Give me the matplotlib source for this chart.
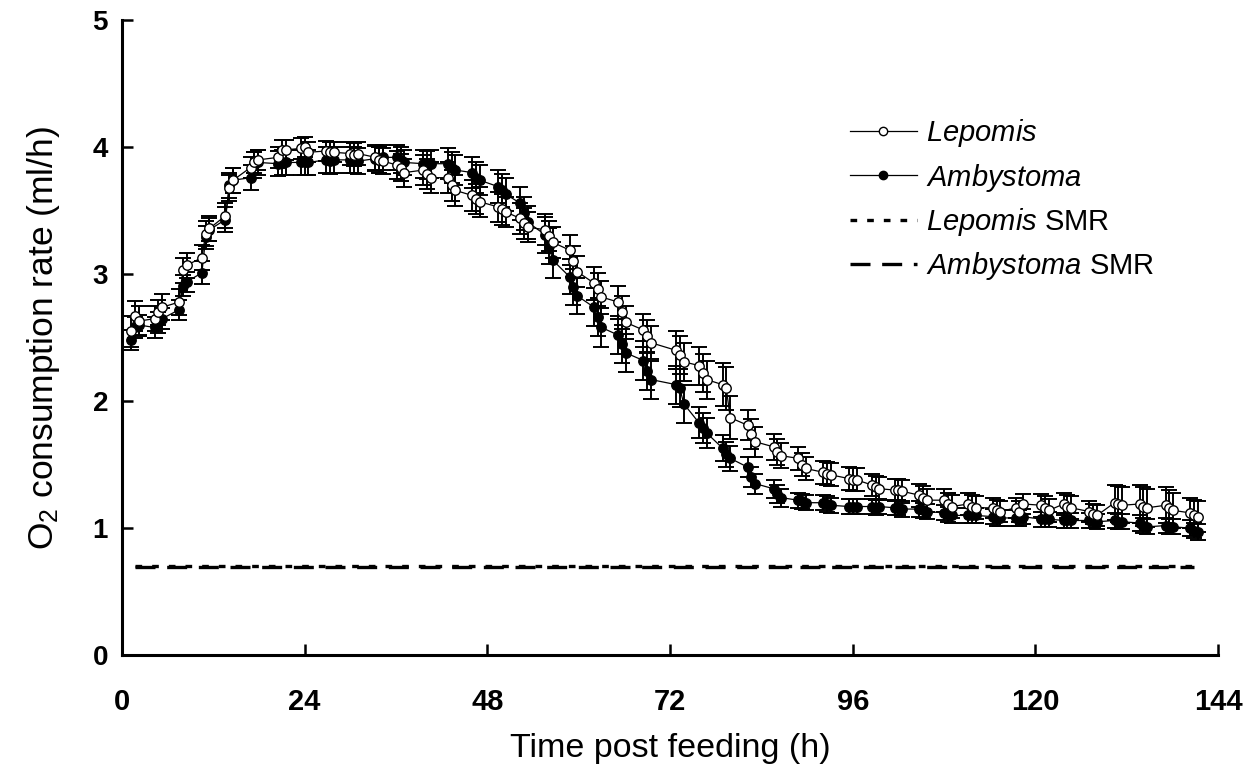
import numpy as np
import matplotlib
matplotlib.use("Agg")
import matplotlib.pyplot as plt
from matplotlib.lines import Line2D

plt.rcParams["font.family"] = ["Liberation Sans", "DejaVu Sans"]
plt.rcParams["mathtext.fontset"] = "custom"
plt.rcParams["mathtext.rm"] = "Liberation Sans"
plt.rcParams["mathtext.it"] = "Liberation Sans:italic"

# sampling: clusters of three readings (about half an hour apart)
cluster_hours = [1.7, 4.8, 8.0, 11.0, 14.1, 17.4, 21.0, 24.0, 27.3, 30.5, 33.8,
                 36.6, 40.1, 43.3, 46.5, 49.9, 52.8, 56.1, 59.3, 62.5, 65.7, 69.0,
                 73.3, 76.3, 79.4, 82.7, 86.1, 89.3, 92.6, 96.0, 99.0, 102.0, 105.2,
                 108.5, 111.7, 114.9, 117.9, 121.3, 124.2, 127.6, 130.9, 134.2, 137.6, 140.8]
reading_offsets = [-0.5, 0.0, 0.5]

lepomis_o2 = [2.55, 2.67, 2.63, 2.65, 2.70, 2.74, 2.78, 3.03, 3.07, 3.13, 3.32, 3.36,
              3.46, 3.68, 3.74, 3.84, 3.88, 3.90, 3.92, 3.98, 3.98, 3.99, 4.00, 3.96,
              3.97, 3.96, 3.96, 3.95, 3.94, 3.95, 3.92, 3.90, 3.89, 3.86, 3.84, 3.80,
              3.82, 3.79, 3.76, 3.76, 3.70, 3.66, 3.62, 3.59, 3.57, 3.53, 3.51, 3.49,
              3.44, 3.40, 3.37, 3.35, 3.30, 3.25, 3.19, 3.10, 3.02, 2.93, 2.88, 2.82,
              2.78, 2.70, 2.62, 2.56, 2.51, 2.46, 2.40, 2.36, 2.31, 2.28, 2.22, 2.17,
              2.13, 2.10, 1.87, 1.81, 1.74, 1.68, 1.64, 1.60, 1.57, 1.55, 1.50, 1.47,
              1.44, 1.43, 1.42, 1.39, 1.38, 1.38, 1.34, 1.32, 1.31, 1.30, 1.30, 1.29,
              1.26, 1.24, 1.22, 1.22, 1.19, 1.17, 1.19, 1.17, 1.16, 1.16, 1.14, 1.13,
              1.16, 1.13, 1.19, 1.18, 1.16, 1.14, 1.19, 1.17, 1.16, 1.13, 1.11, 1.10,
              1.20, 1.19, 1.18, 1.19, 1.17, 1.16, 1.18, 1.16, 1.14, 1.12, 1.10, 1.09]

ambystoma_o2 = [2.48, 2.58, 2.60, 2.58, 2.62, 2.65, 2.72, 2.91, 2.94, 3.01, 3.29, 3.35,
                3.43, 3.70, 3.74, 3.76, 3.86, 3.88, 3.87, 3.88, 3.88, 3.88, 3.88, 3.88,
                3.90, 3.89, 3.90, 3.90, 3.90, 3.89, 3.91, 3.90, 3.92, 3.92, 3.90, 3.88,
                3.87, 3.86, 3.87, 3.87, 3.84, 3.82, 3.80, 3.76, 3.74, 3.69, 3.66, 3.63,
                3.56, 3.48, 3.41, 3.31, 3.22, 3.11, 2.98, 2.90, 2.83, 2.74, 2.66, 2.58,
                2.52, 2.45, 2.38, 2.32, 2.24, 2.17, 2.13, 2.10, 1.98, 1.83, 1.79, 1.75,
                1.63, 1.58, 1.55, 1.48, 1.40, 1.35, 1.31, 1.27, 1.24, 1.22, 1.21, 1.20,
                1.20, 1.19, 1.18, 1.17, 1.17, 1.17, 1.17, 1.16, 1.17, 1.16, 1.16, 1.15,
                1.15, 1.14, 1.13, 1.12, 1.11, 1.10, 1.10, 1.10, 1.10, 1.09, 1.08, 1.08,
                1.08, 1.08, 1.09, 1.07, 1.07, 1.07, 1.06, 1.06, 1.06, 1.06, 1.06, 1.05,
                1.06, 1.05, 1.05, 1.04, 1.02, 1.01, 1.02, 1.01, 1.01, 1.00, 0.98, 0.97]

# standard error, one per cluster
lepomis_se = [0.12, 0.10, 0.10, 0.10, 0.10, 0.08, 0.08, 0.08, 0.08, 0.09, 0.10,
              0.11, 0.12, 0.12, 0.12, 0.12, 0.12, 0.12, 0.12, 0.13, 0.13, 0.13,
              0.15, 0.15, 0.17, 0.12, 0.10, 0.09, 0.09, 0.09, 0.09, 0.09, 0.09,
              0.09, 0.09, 0.08, 0.08, 0.09, 0.09, 0.08, 0.14, 0.15, 0.14, 0.12]
ambystoma_se = [0.08, 0.08, 0.08, 0.09, 0.10, 0.10, 0.10, 0.10, 0.10, 0.10, 0.10,
                0.10, 0.11, 0.12, 0.12, 0.13, 0.13, 0.14, 0.14, 0.15, 0.15, 0.15,
                0.15, 0.12, 0.10, 0.08, 0.07, 0.06, 0.06, 0.06, 0.06, 0.06, 0.06,
                0.06, 0.06, 0.06, 0.06, 0.06, 0.06, 0.06, 0.06, 0.06, 0.06, 0.06]

smr_hours = [1.7, 140.8]
lepomis_smr = 0.70
ambystoma_smr = 0.69

hours = (np.array(cluster_hours)[:, None] + np.array(reading_offsets)[None, :]).ravel()
lep_err = np.repeat(lepomis_se, len(reading_offsets))
amb_err = np.repeat(ambystoma_se, len(reading_offsets))

fig = plt.figure(figsize=(12.52, 7.78), dpi=100)
ax = fig.add_axes([0.0974, 0.158, 0.8755, 0.816])

ax.plot(smr_hours, [lepomis_smr] * 2, color="black", lw=2.4,
        linestyle=(0, (2.0, 3.0)), solid_capstyle="butt")
ax.plot(smr_hours, [ambystoma_smr] * 2, color="black", lw=2.4,
        linestyle=(0, (6.0, 3.5)), solid_capstyle="butt")

err_style = dict(fmt="none", ecolor="black", elinewidth=1.4, capsize=5.5, capthick=1.4)
ax.errorbar(hours, ambystoma_o2, yerr=amb_err, **err_style)
ax.errorbar(hours, lepomis_o2, yerr=lep_err, **err_style)
ax.plot(hours, ambystoma_o2, color="black", lw=0.9, marker="o", ms=6.8,
        mfc="black", mec="black", mew=1.0)
ax.plot(hours, lepomis_o2, color="black", lw=0.9, marker="o", ms=6.8,
        mfc="white", mec="black", mew=1.0)

ax.set_xlim(0, 144)
ax.set_ylim(0, 5)
ax.set_xticks([0, 24, 48, 72, 96, 120, 144])
ax.set_yticks([0, 1, 2, 3, 4, 5])
for side in ["top", "right"]:
    ax.spines[side].set_visible(False)
for side in ["left", "bottom"]:
    ax.spines[side].set_linewidth(2.2)
ax.tick_params(direction="in", length=8, width=1.8)
ax.tick_params(axis="x", pad=24)
ax.tick_params(axis="y", pad=10)
for lab in ax.get_xticklabels():
    lab.set_fontweight("bold")
    lab.set_fontsize(21)
for lab in ax.get_yticklabels():
    lab.set_fontweight("bold")
    lab.set_fontsize(20)

ax.set_xlabel("Time post feeding (h)", fontsize=24.5, labelpad=12)
ax.set_ylabel(r"O$_{2}$ consumption rate (ml/h)", fontsize=25.5, labelpad=22)

handles = [
    Line2D([], [], color="black", lw=0.9, marker="o", ms=6, mfc="white", mec="black"),
    Line2D([], [], color="black", lw=0.9, marker="o", ms=6, mfc="black", mec="black"),
    Line2D([], [], color="black", lw=2.4, linestyle=(0, (2.0, 3.0))),
    Line2D([], [], color="black", lw=2.4, linestyle=(0, (6.0, 3.5))),
]
labels = [r"$\mathit{Lepomis}$", r"$\mathit{Ambystoma}$",
          r"$\mathit{Lepomis}$ SMR", r"$\mathit{Ambystoma}$ SMR"]
fig.legend(handles, labels, loc="upper left", bbox_to_anchor=(0.667, 0.868),
           frameon=False, fontsize=21, handlelength=2.3, handletextpad=0.3,
           labelspacing=0.42, borderpad=0, numpoints=1)

fig.savefig("out.png", dpi=100)
